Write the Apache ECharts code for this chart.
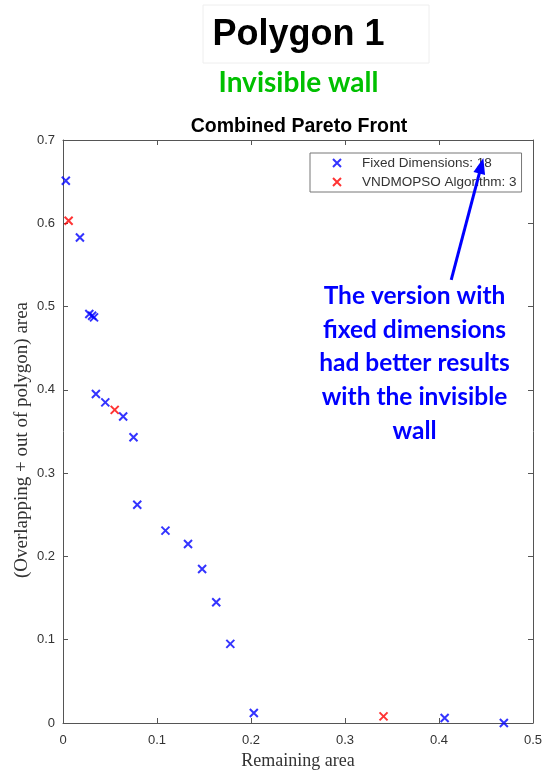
<!DOCTYPE html>
<html>
<head>
<meta charset="utf-8">
<style>
  html, body { margin: 0; padding: 0; background: #fff; }
  #chart { width: 545px; height: 772px; }
</style>
<script src="https://cdn.jsdelivr.net/npm/echarts@6/dist/echarts.min.js"></script>
</head>
<body>
<div id="chart"></div>
<script>
// Pareto front points: [remaining area, overlapping + out-of-polygon area]
const fixedDimensions = [
  [0.003, 0.651], [0.018, 0.583], [0.028, 0.491], [0.031, 0.489],
  [0.033, 0.487], [0.035, 0.395], [0.045, 0.385], [0.064, 0.368],
  [0.075, 0.343], [0.079, 0.262], [0.109, 0.231], [0.133, 0.215],
  [0.148, 0.185], [0.163, 0.145], [0.178, 0.095], [0.203, 0.012],
  [0.406, 0.006], [0.469, 0.000]
];
const vndmopso = [
  [0.006, 0.603], [0.055, 0.376], [0.341, 0.008]
];
const xTicks = [0, 0.1, 0.2, 0.3, 0.4, 0.5];
const yTicks = [0, 0.1, 0.2, 0.3, 0.4, 0.5, 0.6, 0.7];
// Annotation arrow endpoints in data units
const arrowFrom = [0.413, 0.532];
const arrowTo = [0.445, 0.669];

const crossPath = 'path://M0,0L10,10M10,0L0,10';
const axisGray = '#555555';
const labelGray = '#333333';

const chart = echarts.init(document.getElementById('chart'));

const baseAxis = {
  axisLine: { show: true, onZero: false, lineStyle: { color: axisGray, width: 1 } },
  axisTick: { show: true, inside: true, length: 5, lineStyle: { color: axisGray } },
  splitLine: { show: false }
};

const tickText = (ticks) => (v) => String(ticks.find(t => Math.abs(t - v) < 1e-9) ?? v);

chart.setOption({
  animation: false,
  backgroundColor: '#ffffff',
  grid: { left: 63, right: 12, top: 140, bottom: 49, containLabel: false, outerBoundsMode: 'none' },
  graphic: [
    {
      type: 'rect', shape: { x: 203, y: 5, width: 226, height: 58 },
      style: { fill: '#fff', stroke: '#eeeeee', lineWidth: 1 }
    },
    {
      type: 'text', x: 298.5, y: 35,
      style: { text: 'Polygon 1', font: 'bold 36px "Liberation Sans", Arial', fill: '#000', align: 'center', verticalAlign: 'middle' }
    },
    {
      type: 'text', x: 298.5, y: 83,
      style: { text: 'Invisible wall', font: 'bold 28px Lato, "Open Sans"', fill: '#00c000', align: 'center', verticalAlign: 'middle' }
    },
    {
      type: 'text', x: 299, y: 127,
      style: { text: 'Combined Pareto Front', font: 'bold 19.5px "Liberation Sans", Arial', fill: '#000', align: 'center', verticalAlign: 'middle' }
    },
    {
      type: 'text', x: 22, y: 440, rotation: Math.PI / 2,
      style: {
        text: '(Overlapping + out of polygon) area', font: '19px "Liberation Serif", "Times New Roman"',
        fill: labelGray, align: 'center', verticalAlign: 'middle'
      }
    },
    {
      type: 'text', x: 414.5, y: 279,
      style: {
        text: 'The version with\nfixed dimensions\nhad better results\nwith the invisible\nwall',
        font: 'bold 24.5px Lato, "Open Sans"', fill: '#0000ff',
        align: 'center', verticalAlign: 'top', lineHeight: 33.8
      }
    }
  ],
  legend: {
    left: 310, top: 153, orient: 'vertical', itemGap: 3, itemWidth: 40, itemHeight: 8,
    padding: [2, 5, 2, 22],
    borderColor: '#777', borderWidth: 1, borderRadius: 0, backgroundColor: '#fff',
    textStyle: { fontFamily: 'Liberation Sans, Arial', fontSize: 13.5, lineHeight: 16, color: '#333' },
    data: [
      { name: 'Fixed Dimensions: 18', icon: crossPath, itemStyle: { color: '#0000ff', borderColor: '#0000ff', borderWidth: 2 } },
      { name: 'VNDMOPSO Algorithm: 3', icon: crossPath, itemStyle: { color: '#ff0000', borderColor: '#ff0000', borderWidth: 2 } }
    ]
  },
  xAxis: [
    Object.assign({}, baseAxis, {
      type: 'value', min: 0, max: 0.5, interval: 0.1, position: 'bottom',
      name: 'Remaining area', nameLocation: 'middle', nameGap: 26,
      nameTextStyle: { fontFamily: 'Liberation Serif, Times New Roman', fontSize: 18, color: labelGray },
      axisLabel: {
        color: labelGray, fontFamily: 'Liberation Sans, Arial', fontSize: 13, margin: 11,
        formatter: tickText(xTicks)
      }
    }),
    Object.assign({}, baseAxis, {
      type: 'value', min: 0, max: 0.5, interval: 0.1, position: 'top',
      axisLabel: { show: false }
    })
  ],
  yAxis: [
    Object.assign({}, baseAxis, {
      type: 'value', min: 0, max: 0.7, interval: 0.1, position: 'left',
      axisLabel: {
        color: labelGray, fontFamily: 'Liberation Sans, Arial', fontSize: 13, margin: 8,
        formatter: tickText(yTicks)
      }
    }),
    Object.assign({}, baseAxis, {
      type: 'value', min: 0, max: 0.7, interval: 0.1, position: 'right',
      axisLabel: { show: false }
    })
  ],
  series: [
    {
      name: 'Fixed Dimensions: 18', type: 'scatter', data: fixedDimensions,
      symbol: crossPath, symbolSize: 8, clip: false,
      itemStyle: { color: '#0000ff', borderColor: '#0000ff', borderWidth: 2 },
      markLine: {
        silent: true, symbol: ['none', 'triangle'], symbolSize: [12, 16],
        label: { show: false },
        lineStyle: { color: '#0000ff', width: 3, type: 'solid' },
        data: [[{ coord: arrowFrom }, { coord: arrowTo }]]
      }
    },
    {
      name: 'VNDMOPSO Algorithm: 3', type: 'scatter', data: vndmopso,
      symbol: crossPath, symbolSize: 8, clip: false,
      itemStyle: { color: '#ff0000', borderColor: '#ff0000', borderWidth: 2 }
    }
  ]
});
</script>
</body>
</html>
